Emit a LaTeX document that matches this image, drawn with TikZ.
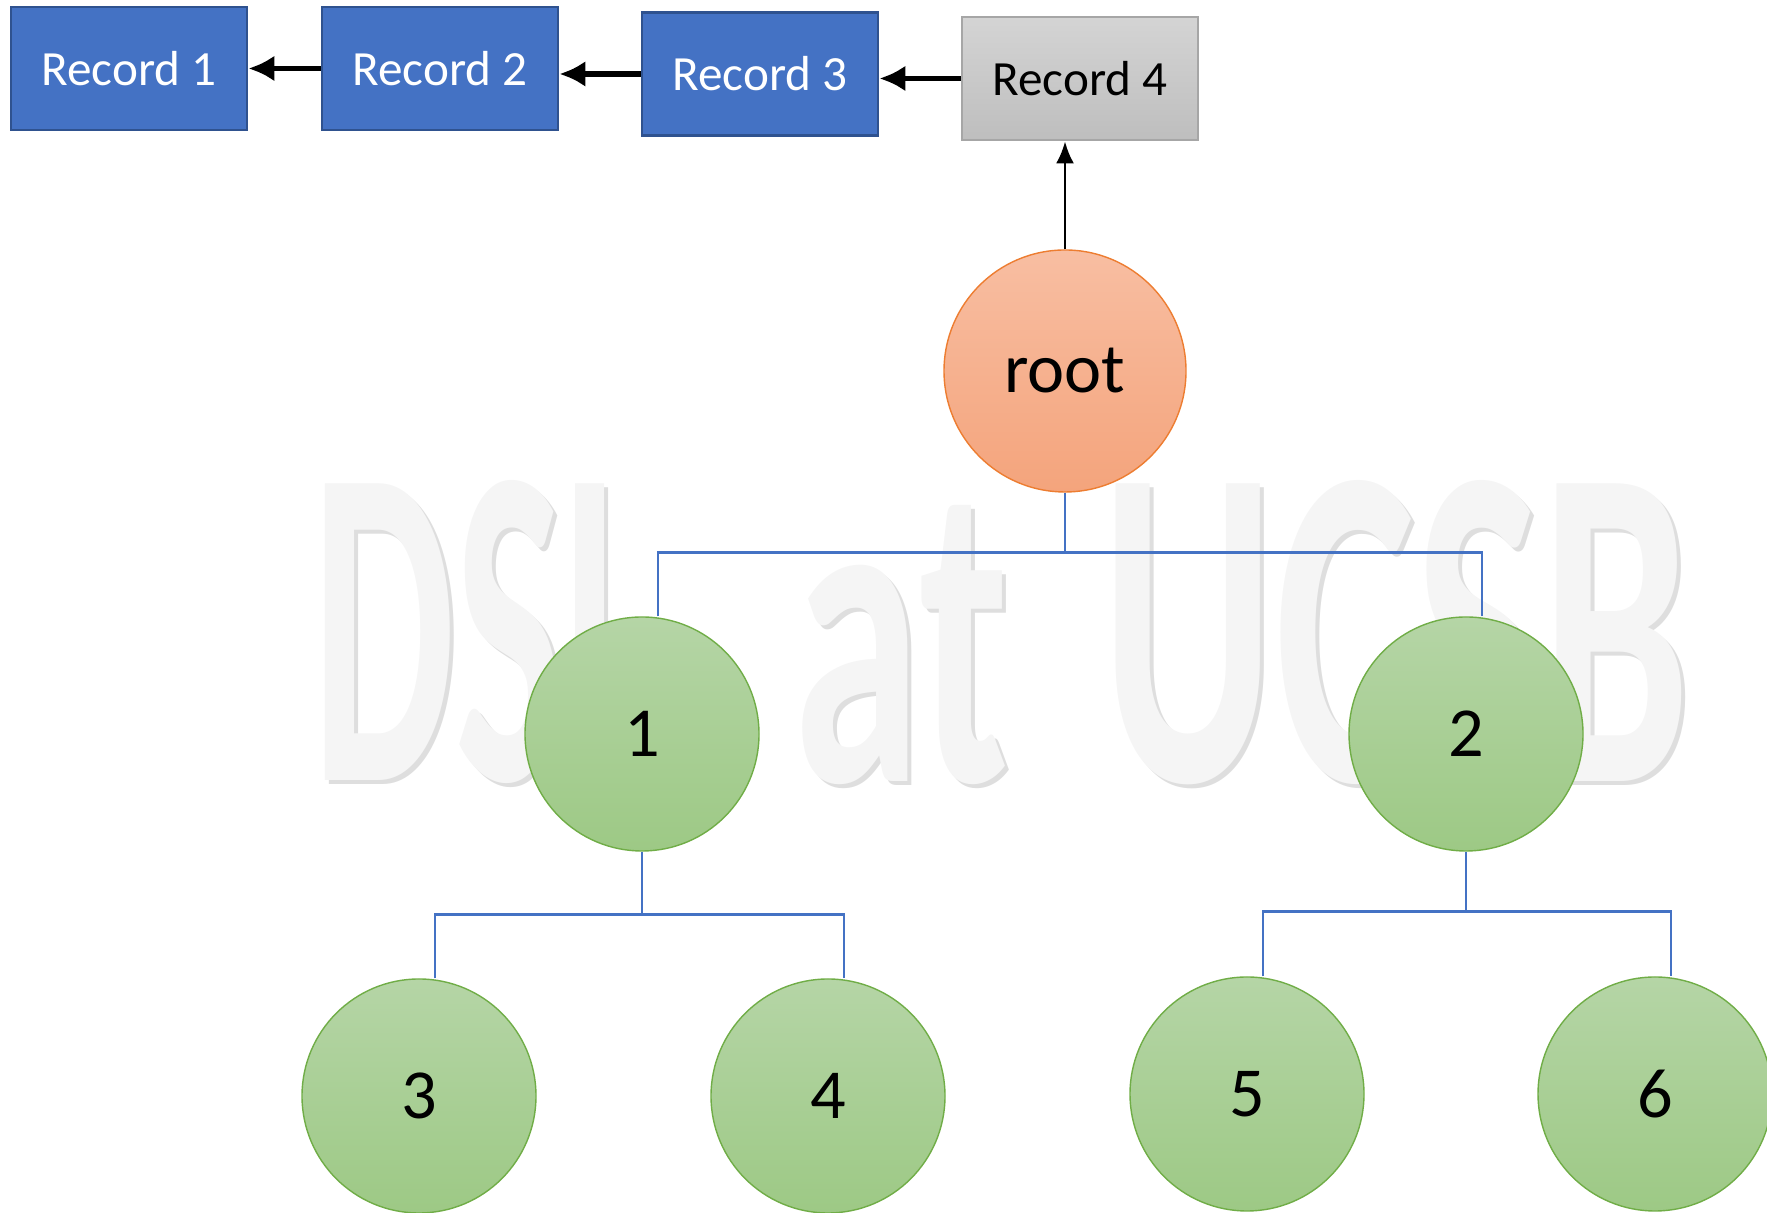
\documentclass[tikz,border=0pt]{standalone}
\usepackage{fontspec}
\setmainfont{Carlito}
\usetikzlibrary{arrows.meta, positioning}

\definecolor{recblue}{HTML}{4472C4}
\definecolor{recedge}{HTML}{2F528F}
\definecolor{graytop}{HTML}{D4D4D4}
\definecolor{graybot}{HTML}{BEBEBE}
\definecolor{grayedge}{HTML}{A6A6A6}
\definecolor{roottop}{HTML}{F8BEA2}
\definecolor{rootbot}{HTML}{F4A47C}
\definecolor{rootedge}{HTML}{ED7D31}
\definecolor{leaftop}{HTML}{B5D5A6}
\definecolor{leafbot}{HTML}{9DC985}
\definecolor{leafedge}{HTML}{70AD47}
\definecolor{markfill}{HTML}{F5F5F5}
\definecolor{markshade}{HTML}{DEDEDE}

\tikzset{
  record/.style={draw=recedge, fill=recblue, text=white, line width=0.8pt,
    minimum width=2.36cm, minimum height=1.23cm, font=\fontsize{14}{16}\selectfont},
  lastrecord/.style={record, draw=grayedge, top color=graytop, bottom color=graybot, text=black},
  rootnode/.style={circle, draw=rootedge, top color=roottop, bottom color=rootbot,
    minimum size=2.42cm, font=\fontsize{20}{22}\selectfont},
  leaf/.style={circle, draw=leafedge, top color=leaftop, bottom color=leafbot,
    minimum size=2.34cm, font=\fontsize{20}{22}\selectfont},
  branch/.style={draw=recblue, line width=0.7pt},
  link/.style={-{Latex[length=2.6mm, width=2.6mm]}, line width=1.5pt},
}

\begin{document}
\begin{tikzpicture}

% Fix the page to the reference size
\clip (0,0) rectangle (17.67,12.13);
\useasboundingbox (0,0) rectangle (17.67,12.13);

% Watermark behind everything
\foreach \word/\xpos/\ypos/\w/\h in {DSL/4.86/5.81/3.46cm/3.0cm, at/9.015/5.68/2.15cm/2.76cm, UCSB/13.96/5.80/5.88cm/3.01cm} {
  \node[text=markshade] at (\xpos+0.04,\ypos-0.04) {\resizebox{\w}{\h}{\bfseries\word}};
  \node[text=markfill] (mark\word) at (\xpos,\ypos) {\resizebox{\w}{\h}{\bfseries\word}};
}

% Chain of records
\node[record] (rec1) at (1.29,11.445) {Record 1};
\node[record] (rec2) at (4.40,11.445) {Record 2};
\node[record] (rec3) at (7.60,11.39) {Record 3};
\node[lastrecord] (rec4) at (10.80,11.345) {Record 4};

% Each record points back to the one before it
\draw[link] (rec2.west) -- (rec2.west -| rec1.east);
\draw[link] (rec3.west) -- (rec3.west -| rec2.east);
\draw[link] (rec4.west) -- (rec4.west -| rec3.east);

% Tree nodes
\node[rootnode] (root) at (10.65,8.42) {root};
\node[leaf] (n1) at (6.42,4.79) {1};
\node[leaf] (n2) at (14.66,4.79) {2};
\node[leaf] (n3) at (4.19,1.17) {3};
\node[leaf] (n4) at (8.28,1.17) {4};
\node[leaf] (n5) at (12.47,1.19) {5};
\node[leaf] (n6) at (16.55,1.19) {6};

% Root points to the newest record
\draw[-{Latex[length=2.2mm, width=1.8mm]}, line width=0.8pt] (root.north) -- (root.north |- rec4.south);

% Elbow connectors of the tree
\draw[branch] (root.south) -- ++(0,-0.6) coordinate (bar0);
\draw[branch] ([xshift=1.6mm]n1.north) |- (bar0) -| ([xshift=1.6mm]n2.north);

\draw[branch] (n1.south) -- ++(0,-0.63) coordinate (bar1);
\draw[branch] ([xshift=1.6mm]n3.north) |- (bar1) -| ([xshift=1.6mm]n4.north);

\draw[branch] (n2.south) -- ++(0,-0.6) coordinate (bar2);
\draw[branch] ([xshift=1.6mm]n5.north) |- (bar2) -| ([xshift=1.6mm]n6.north);

\end{tikzpicture}
\end{document}
